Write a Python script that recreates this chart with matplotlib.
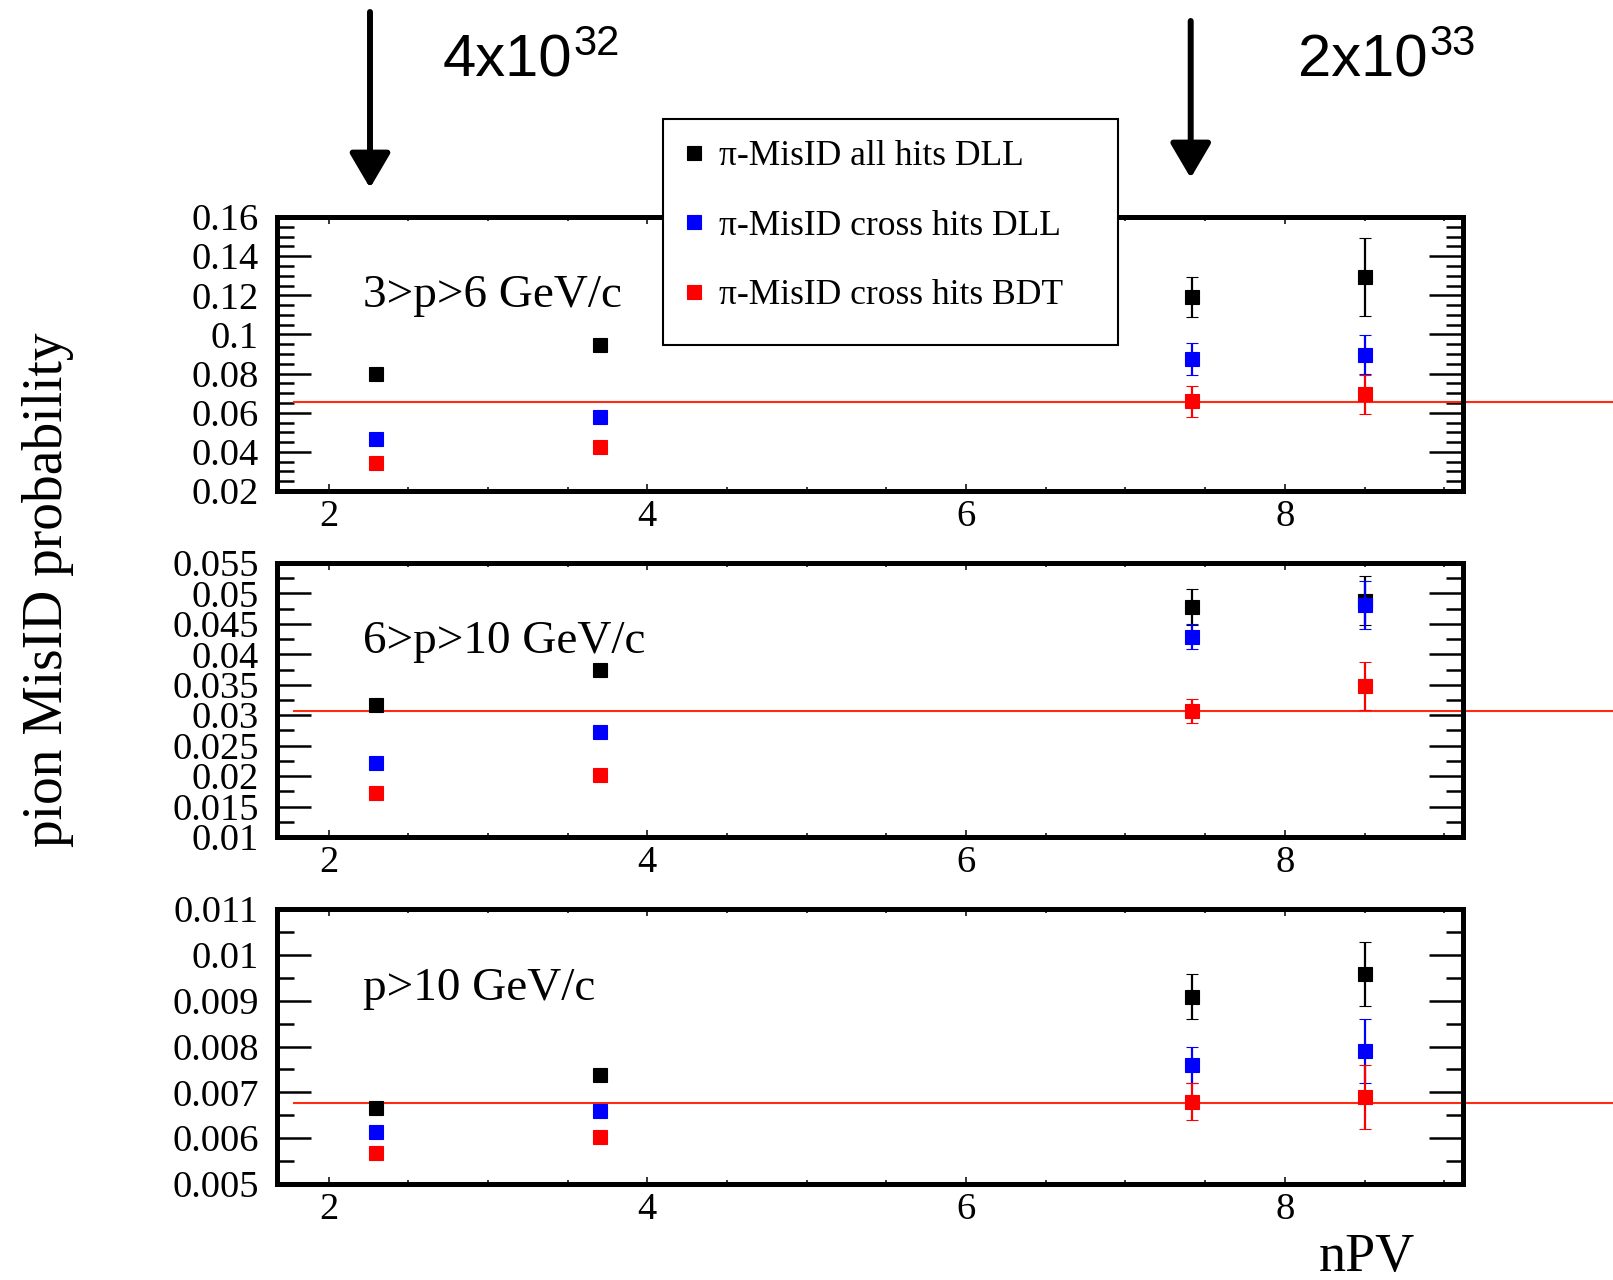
#!/usr/bin/env python3
"""
pion MisID probability vs nPV - three momentum bins, ROOT-style layout
"""

import matplotlib
matplotlib.use("Agg")
import matplotlib.pyplot as plt
import matplotlib.ticker as ticker
from matplotlib.patches import FancyArrowPatch, Rectangle
import numpy as np

# ---- data ----
npv = [2.3, 3.7, 7.42, 8.5]

bin_labels = ["3>p>6 GeV/c", "6>p>10 GeV/c", "p>10 GeV/c"]
series_labels = ["π-MisID all hits DLL", "π-MisID cross hits DLL", "π-MisID cross hits BDT"]

# 3 < p < 6
all_dll_1 = [0.0796, 0.0944, 0.1191, 0.1293]
all_dll_1_err = [0, 0, 0.0100, 0.0200]
cross_dll_1 = [0.0464, 0.0578, 0.0874, 0.0897]
cross_dll_1_err = [0, 0, 0.0080, 0.0099]
cross_bdt_1 = [0.0345, 0.0423, 0.0658, 0.0694]
cross_bdt_1_err = [0, 0, 0.0079, 0.0101]

# 6 < p < 10
all_dll_2 = [0.0317, 0.0375, 0.0478, 0.0488]
all_dll_2_err = [0, 0, 0.0030, 0.0040]
cross_dll_2 = [0.0221, 0.0273, 0.0429, 0.0481]
cross_dll_2_err = [0, 0, 0.0020, 0.0039]
cross_bdt_2 = [0.0172, 0.0202, 0.0307, 0.0348]
cross_bdt_2_err = [0, 0, 0.0020, 0.0040]

# p > 10
all_dll_3 = [0.00666, 0.00738, 0.00909, 0.00958]
all_dll_3_err = [0, 0, 0.0005, 0.0007]
cross_dll_3 = [0.00613, 0.00660, 0.00760, 0.00790]
cross_dll_3_err = [0, 0, 0.0004, 0.0007]
cross_bdt_3 = [0.00567, 0.00603, 0.00680, 0.00690]
cross_bdt_3_err = [0, 0, 0.0004, 0.0007]

ref_levels = [0.0653, 0.0307, 0.00676]

y_ranges = [(0.02, 0.16), (0.01, 0.055), (0.005, 0.011)]
y_major = [0.02, 0.005, 0.001]
y_minor = [0.005, 0.0025, 0.0005]

lumi_labels = [("4x10", "32"), ("2x10", "33")]

# ---- layout in reference pixels ----
W, H = 1613, 1280
SERIF = "Liberation Serif"
SANS = "Liberation Sans"
colors = ["black", "#0000ff", "#ff0000"]
line_red = "#ff2a10"


def fx(px):
    return px / W


def fy(py):
    return 1 - py / H


fig = plt.figure(figsize=(W / 100, H / 100), dpi=100)
fig.patch.set_facecolor("white")

panel_px = [(217, 491), (563, 837), (909, 1184)]
left_px, right_px = 277, 1463

panels = [
    [(all_dll_1, all_dll_1_err), (cross_dll_1, cross_dll_1_err), (cross_bdt_1, cross_bdt_1_err)],
    [(all_dll_2, all_dll_2_err), (cross_dll_2, cross_dll_2_err), (cross_bdt_2, cross_bdt_2_err)],
    [(all_dll_3, all_dll_3_err), (cross_dll_3, cross_dll_3_err), (cross_bdt_3, cross_bdt_3_err)],
]

legend_handles = []
for i, (top, bot) in enumerate(panel_px):
    ax = fig.add_axes([fx(left_px), fy(bot), fx(right_px - left_px), (bot - top) / H])
    ax.set_xlim(1.676, 9.118)
    ax.set_ylim(*y_ranges[i])

    # reference line runs past the frame to the page edge
    ax.plot([1.78, 10.5], [ref_levels[i], ref_levels[i]], color=line_red,
            lw=1.5, clip_on=False, zorder=2)

    for j, (vals, errs) in enumerate(panels[i]):
        eb = ax.errorbar(npv, vals, yerr=errs, fmt="s", color=colors[j],
                         markersize=10, markeredgewidth=0.8, elinewidth=1.6,
                         capsize=4.5, capthick=1.6, zorder=3 + j)
        if i == 0:
            legend_handles.append(eb.lines[0])

    # axes styling (ROOT look)
    for sp in ax.spines.values():
        sp.set_linewidth(3.6)
    ax.xaxis.set_major_locator(ticker.MultipleLocator(2))
    ax.xaxis.set_minor_locator(ticker.MultipleLocator(0.5))
    lo, hi = y_ranges[i]
    ax.set_yticks(np.round(np.arange(lo, hi + y_major[i] / 2, y_major[i]), 5))
    ax.yaxis.set_minor_locator(ticker.MultipleLocator(y_minor[i]))
    ax.yaxis.set_major_formatter(ticker.FormatStrFormatter("%g"))

    ax.tick_params(axis="x", which="both", direction="in", top=True, bottom=True)
    ax.tick_params(axis="x", which="major", length=5, width=1.1, pad=6,
                   labelsize=27.7)
    ax.tick_params(axis="x", which="minor", length=3, width=1.1)
    ax.tick_params(axis="y", which="both", direction="in", left=True, right=True)
    ax.tick_params(axis="y", which="major", length=24.5, width=1.8, pad=13,
                   labelsize=27.7)
    ax.tick_params(axis="y", which="minor", length=12, width=1.8)
    for lab in ax.get_xticklabels() + ax.get_yticklabels():
        lab.set_fontfamily(SERIF)

    ax.text(0.0725, 0.67, bin_labels[i], transform=ax.transAxes,
            fontsize=34, family=SERIF, va="baseline", ha="left")

# ---- legend box (drawn over the top panel) ----
box = Rectangle((fx(663), fy(345)), fx(1118 - 663), (345 - 119) / H,
                transform=fig.transFigure, facecolor="white",
                edgecolor="black", lw=1.5, zorder=4)
fig.patches.append(box)
fig.legend(legend_handles, series_labels, loc="upper left",
           bbox_to_anchor=(fx(676), fy(140)), frameon=False,
           prop={"family": SERIF, "size": 25.6}, handlelength=1.0,
           handletextpad=0.22, labelspacing=1.03, borderpad=0,
           borderaxespad=0, numpoints=1)

# ---- axis titles ----
fig.text(fx(48), fy(590), "pion MisID probability", rotation=90,
         ha="center", va="center", fontsize=40, family=SERIF)
fig.text(fx(1415), fy(1271), "nPV", ha="right", va="baseline",
         fontsize=39, family=SERIF)

# ---- luminosity arrows ----
arrows = [(370, 12, 188), (1190.7, 21, 178)]
text_px = [442.7, 1298]
for (ax_x, y0, y1), (main, sup), tx in zip(arrows, lumi_labels, text_px):
    arr = FancyArrowPatch((fx(ax_x), fy(y0)), (fx(ax_x), fy(y1)),
                          transform=fig.transFigure,
                          arrowstyle="-|>,head_length=0.85,head_width=0.5",
                          mutation_scale=25, lw=4.3, color="black",
                          shrinkA=0, shrinkB=0)
    fig.patches.append(arr)
    t = fig.text(fx(tx), fy(76.7), main, ha="left", va="baseline",
                 fontsize=43, family=SANS)
    plt.annotate(sup, xy=(1, 1), xycoords=t, xytext=(1, 7),
                 textcoords="offset points", ha="left", va="top",
                 fontsize=30, family=SANS, annotation_clip=False)

fig.savefig("out.png", dpi=100)
